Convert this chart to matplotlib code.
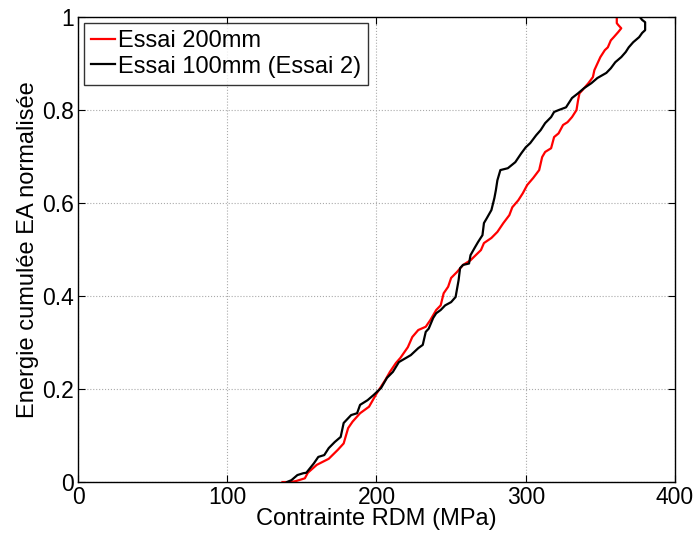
import matplotlib.pyplot as plt

plt.rcParams['font.family'] = ['Liberation Sans', 'DejaVu Sans']

# Essai 200mm (red)
red_x = [137, 142, 146, 152, 154, 160, 168, 174, 178, 181, 184, 189, 195, 200,
         206, 209, 213, 216, 221, 224, 228, 233, 236, 240, 243, 245, 248, 250,
         254, 258, 263, 270, 272, 277, 281, 285, 289, 291, 295, 298, 301, 305,
         309, 311, 313, 317, 319, 322, 325, 328, 331, 334, 335, 336, 338, 342,
         345, 346, 348, 350, 353, 355, 357, 359, 362, 364, 362, 361, 361]
red_y = [0, 0, 0.002, 0.008, 0.02, 0.037, 0.05, 0.069, 0.083, 0.116, 0.13, 0.148,
         0.162, 0.19, 0.22, 0.237, 0.256, 0.267, 0.29, 0.312, 0.327, 0.334, 0.348,
         0.37, 0.38, 0.406, 0.42, 0.439, 0.452, 0.467, 0.477, 0.499, 0.514, 0.525,
         0.538, 0.557, 0.574, 0.591, 0.606, 0.621, 0.639, 0.654, 0.671, 0.699,
         0.71, 0.718, 0.742, 0.75, 0.768, 0.774, 0.785, 0.8, 0.82, 0.836, 0.843,
         0.858, 0.871, 0.886, 0.9, 0.914, 0.929, 0.935, 0.95, 0.957, 0.968, 0.976,
         0.983, 0.987, 1.0]

# Essai 100mm (Essai 2) (black)
blk_x = [140, 143, 147, 151, 153, 158, 161, 165, 168, 172, 176, 178, 183, 187,
         189, 194, 198, 203, 207, 211, 215, 223, 228, 231, 233, 235, 238, 240,
         243, 246, 250, 253, 255, 256, 258, 262, 263, 266, 268, 271, 272, 274,
         277, 279, 280, 281, 283, 288, 293, 297, 300, 303, 307, 310, 313, 317,
         319, 322, 327, 331, 335, 339, 344, 348, 354, 357, 360, 364, 367, 369,
         372, 376, 378, 380, 380, 378, 377]
blk_y = [0, 0.004, 0.015, 0.019, 0.02, 0.04, 0.054, 0.058, 0.073, 0.086, 0.097,
         0.127, 0.144, 0.148, 0.166, 0.176, 0.187, 0.202, 0.224, 0.237, 0.258,
         0.273, 0.288, 0.295, 0.323, 0.33, 0.353, 0.363, 0.37, 0.38, 0.387, 0.398,
         0.434, 0.46, 0.467, 0.47, 0.488, 0.505, 0.516, 0.531, 0.557, 0.568,
         0.585, 0.611, 0.628, 0.649, 0.671, 0.675, 0.688, 0.707, 0.72, 0.729,
         0.746, 0.757, 0.772, 0.785, 0.796, 0.8, 0.806, 0.826, 0.836, 0.847,
         0.858, 0.869, 0.88, 0.89, 0.903, 0.914, 0.925, 0.935, 0.946, 0.957,
         0.966, 0.972, 0.989, 0.994, 0.998]

xticks = [0, 100, 200, 300, 400]
yticks = [0, 0.2, 0.4, 0.6, 0.8, 1]

fig = plt.figure(figsize=(6.94, 5.35), dpi=100)
ax = fig.add_axes([0.1124, 0.099, 0.8602, 0.869])

ax.plot(red_x, red_y, color='red', lw=1.6, label='Essai 200mm')
ax.plot(blk_x, blk_y, color='black', lw=1.6, label='Essai 100mm (Essai 2)')

ax.set_xlim(0, 400)
ax.set_ylim(0, 1)
ax.set_xticks(xticks)
ax.set_yticks(yticks)
ax.set_xticklabels([str(t) for t in xticks])
ax.set_yticklabels(['0', '0.2', '0.4', '0.6', '0.8', '1'])
ax.tick_params(direction='in', top=True, right=True, labelsize=16.5, length=5, pad=3)
ax.grid(True, linestyle=':', color='#aaaaaa', lw=0.8)
for s in ax.spines.values():
    s.set_linewidth(1.0)

ax.set_xlabel('Contrainte RDM (MPa)', fontsize=17, labelpad=-1)
ax.set_ylabel('Energie cumulée EA normalisée', fontsize=17, labelpad=2)

leg = ax.legend(loc='upper left', fontsize=17, frameon=True, fancybox=False,
                edgecolor='black', handlelength=1.0, handletextpad=0.15,
                borderaxespad=0.25, borderpad=0.3, labelspacing=0.15)
leg.get_frame().set_linewidth(1.0)

fig.savefig('out.png', dpi=100)
